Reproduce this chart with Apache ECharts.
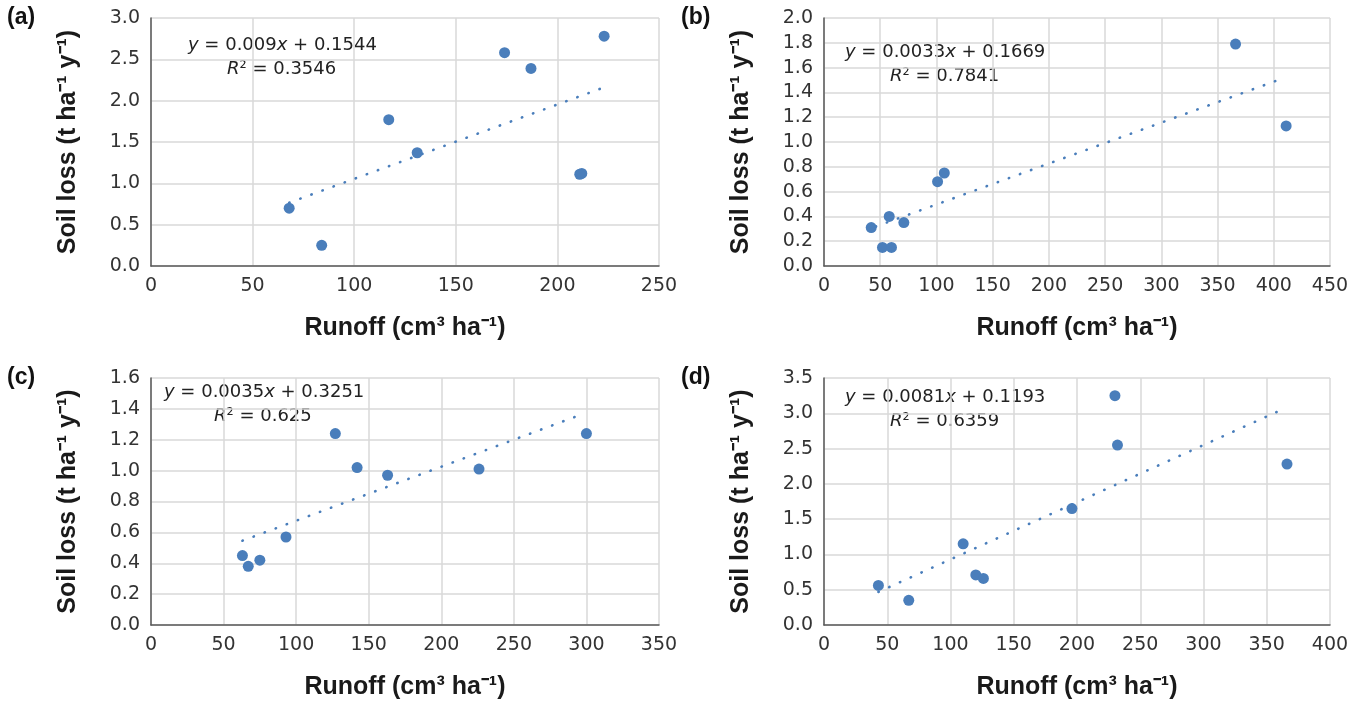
<!DOCTYPE html>
<html>
<head>
<meta charset="utf-8">
<script src="https://cdn.jsdelivr.net/npm/echarts@6/dist/echarts.min.js"></script>
<style>
  html, body { margin: 0; padding: 0; background: #fff; }
  #chart { width: 1365px; height: 702px; }
</style>
</head>
<body>
<div id="chart"></div>
<script>
// runoff (x) / soil loss (y)
const runoffA = [68, 84, 117, 131, 174, 187, 211, 212, 223];
const lossA   = [0.70, 0.25, 1.77, 1.37, 2.58, 2.39, 1.11, 1.12, 2.78];
const runoffB = [42, 52, 60, 58, 71, 101, 107, 366, 411];
const lossB   = [0.31, 0.15, 0.15, 0.40, 0.35, 0.68, 0.75, 1.79, 1.13];
const runoffC = [63, 67, 75, 93, 127, 142, 163, 226, 300];
const lossC   = [0.45, 0.38, 0.42, 0.57, 1.24, 1.02, 0.97, 1.01, 1.24];
const runoffD = [43, 67, 110, 120, 126, 196, 230, 232, 366];
const lossD   = [0.56, 0.35, 1.15, 0.71, 0.66, 1.65, 3.25, 2.55, 2.28];

// trendline end points (from the printed equations)
const trendA = [[68, 0.766], [221, 2.143]];
const trendB = [[46, 0.318], [405, 1.503]];
const trendC = [[63, 0.546], [299, 1.372]];
const trendD = [[43, 0.468], [364, 3.068]];

const panelLabels = ["(a)", "(b)", "(c)", "(d)"];
const slopes = ["0.009", "0.0033", "0.0035", "0.0081"];
const intercepts = ["0.1544", "0.1669", "0.3251", "0.1193"];
const r2Values = ["0.3546", "0.7841", "0.625", "0.6359"];

const xMax = [250, 450, 350, 400];
const yMax = [3.0, 2.0, 1.6, 3.5];
const yStep = [0.5, 0.2, 0.2, 0.5];

const runoffs = [runoffA, runoffB, runoffC, runoffD];
const losses = [lossA, lossB, lossC, lossD];
const trends = [trendA, trendB, trendC, trendD];

const blue = "#4a7ebb";
const tickFont = "DejaVu Sans";
const titleFont = "'Liberation Sans Narrow', 'Liberation Sans', sans-serif";

const grids = [
  { left: 151, top: 18, width: 508, height: 248 },
  { left: 824, top: 18, width: 506, height: 248 },
  { left: 151, top: 378, width: 508, height: 247 },
  { left: 824, top: 378, width: 506, height: 247 }
];

const xAxes = [], yAxes = [], series = [], graphics = [];
const labelPos = [[7, 6], [681, 6], [7, 366], [681, 366]];
const eqPos = [[188, 36, 227, 60], [845, 43, 890, 67], [164, 383, 214, 407], [845, 388, 890, 412]];

for (let i = 0; i < 4; i++) {
  xAxes.push({
    gridIndex: i, type: "value", min: 0, max: xMax[i], interval: 50,
    name: "Runoff (cm³ ha⁻¹)", nameLocation: "middle", nameGap: 50,
    nameTextStyle: { fontFamily: titleFont, fontWeight: "bold", fontSize: 25, color: "#1a1a1a" },
    axisLine: { show: true, onZero: false, lineStyle: { color: "#595959", width: 1.5 } },
    axisTick: { show: false },
    axisLabel: { fontFamily: tickFont, fontSize: 19, color: "#333", margin: 11 },
    splitLine: { show: true, lineStyle: { color: "#d9d9d9", width: 1.5 } }
  });
  yAxes.push({
    gridIndex: i, type: "value", min: 0, max: yMax[i], interval: yStep[i],
    name: "Soil loss (t ha⁻¹ y⁻¹)", nameLocation: "middle", nameGap: 70,
    nameTextStyle: { fontFamily: titleFont, fontWeight: "bold", fontSize: 25, color: "#1a1a1a" },
    axisLine: { show: true, onZero: false, lineStyle: { color: "#595959", width: 1.5 } },
    axisTick: { show: false },
    axisLabel: { fontFamily: tickFont, fontSize: 19, color: "#333", margin: 11,
      formatter: v => v.toFixed(1) },
    splitLine: { show: true, lineStyle: { color: "#d9d9d9", width: 1.5 } }
  });
  series.push({
    type: "line", xAxisIndex: i, yAxisIndex: i, data: trends[i],
    symbol: "none", silent: true,
    lineStyle: { color: blue, width: 2.6, type: [0.4, 11.4], cap: "round" }
  });
  series.push({
    type: "scatter", xAxisIndex: i, yAxisIndex: i,
    data: runoffs[i].map((x, k) => [x, losses[i][k]]),
    symbolSize: 11, itemStyle: { color: blue, opacity: 1 }
  });

  graphics.push({
    type: "text", left: labelPos[i][0], top: labelPos[i][1],
    style: { text: panelLabels[i], fontFamily: titleFont, fontWeight: "bold", fontSize: 23, fill: "#111" }
  });
  const rich = {
    n: { fontFamily: tickFont, fontSize: 18, fill: "#222" },
    i: { fontFamily: tickFont, fontSize: 18, fill: "#222", fontStyle: "italic" }
  };
  graphics.push({
    type: "text", left: eqPos[i][0], top: eqPos[i][1],
    style: { text: "{i|y}{n| = " + slopes[i] + "}{i|x}{n| + " + intercepts[i] + "}", rich: rich }
  });
  graphics.push({
    type: "text", left: eqPos[i][2], top: eqPos[i][3],
    style: { text: "{i|R}{n|² = " + r2Values[i] + "}", rich: rich }
  });
}

const chart = echarts.init(document.getElementById("chart"));
chart.setOption({
  animation: false,
  backgroundColor: "#fff",
  grid: grids,
  xAxis: xAxes,
  yAxis: yAxes,
  series: series,
  graphic: graphics
});
</script>
</body>
</html>
